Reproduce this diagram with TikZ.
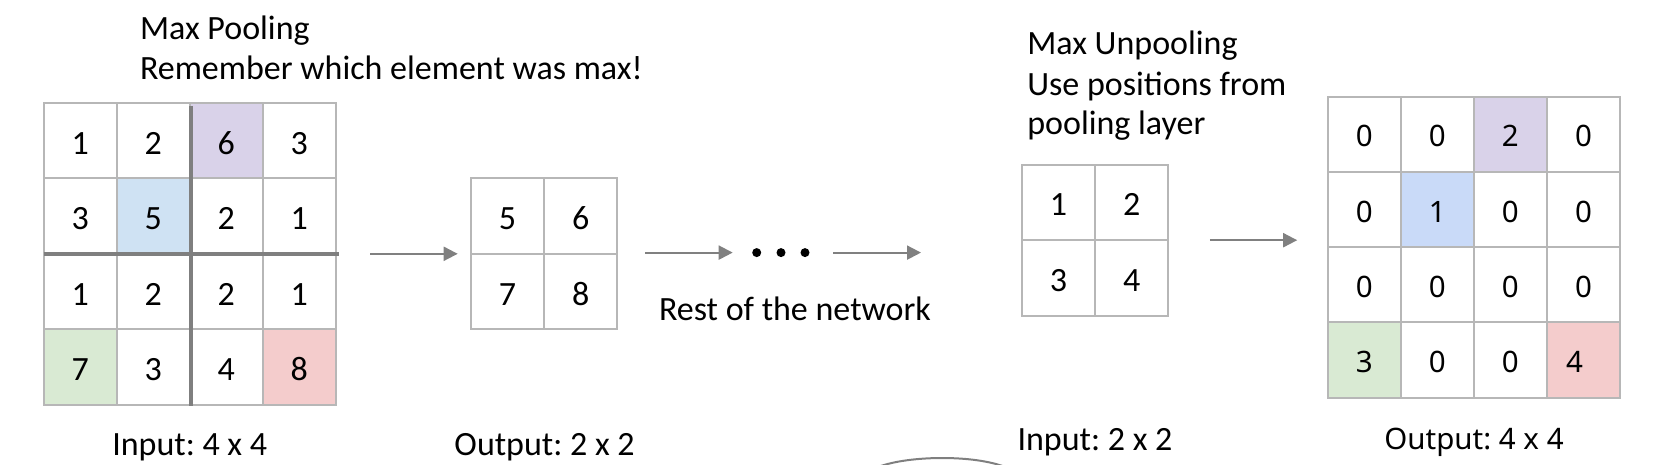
\documentclass[tikz,border=0pt]{standalone}
\usepackage{fontspec}
\setmainfont{Carlito}
\newfontfamily\notofont{Noto Sans}
\usetikzlibrary{arrows.meta,calc}
\definecolor{gridgray}{HTML}{B7B7B7}
\definecolor{thickgray}{HTML}{7F7F7F}
\definecolor{arrgray}{HTML}{808080}
\definecolor{cpurple}{HTML}{D9D2E9}
\definecolor{cblue}{HTML}{CFE2F3}
\definecolor{cblueb}{HTML}{C9DAF8}
\definecolor{cgreen}{HTML}{D9EAD3}
\definecolor{cred}{HTML}{F4CCCC}
\frenchspacing
\begin{document}
\begin{tikzpicture}[x=1pt,y=-1pt,
  cell/.style={draw=gridgray, line width=2pt, minimum width=73pt, minimum height=75.4pt,
    inner sep=0pt, outer sep=0pt, text height=27pt, text depth=0pt, anchor=north west,
    font=\fontsize{34}{40}\selectfont},
  ncell/.style={cell, text height=25pt, font=\notofont\fontsize{29.5}{36}\selectfont},
  lbl/.style={inner sep=0pt, outer sep=0pt, font=\fontsize{34}{40}\selectfont},
  nlbl/.style={inner sep=0pt, outer sep=0pt, font=\notofont\fontsize{29.5}{36}\selectfont},
  divider/.style={draw=thickgray, line width=4pt},
  arr/.style={draw=arrgray, line width=2pt, -{Triangle[length=14pt,width=14pt]}},
  dotnode/.style={circle, fill=black, inner sep=0pt, outer sep=0pt, minimum size=9pt},
  arcline/.style={draw=thickgray, line width=2pt}]
\useasboundingbox (0,0) rectangle (1664,465);

% Input 4x4 (max pooling)
\foreach \v/\f [count=\k from 0] in {1/white,2/white,6/cpurple,3/white,3/white,5/cblue,2/white,1/white,1/white,2/white,2/white,1/white,7/cgreen,3/white,4/white,8/cred} {
  \pgfmathtruncatemacro\ri{\k/4}
  \pgfmathtruncatemacro\ci{mod(\k,4)}
  \node[cell, fill=\f] (a-\ri-\ci) at (43.7+\ci*73, 103+\ri*75.4) {\v};
}
\draw[divider] ($(a-0-1.north east)+(1.3,3)$) -- ($(a-3-1.south east)+(1.3,1.5)$);
\draw[divider] (a-1-0.south west) -- ($(a-1-3.south east)+(3.5,0)$);

% Output 2x2
\foreach \v [count=\k from 0] in {5,6,7,8} {
  \pgfmathtruncatemacro\ri{\k/2}
  \pgfmathtruncatemacro\ci{mod(\k,2)}
  \node[cell] (b-\ri-\ci) at (471+\ci*73.3, 178.4+\ri*75.4) {\v};
}

% Input 2x2 (unpooling)
\foreach \v [count=\k from 0] in {1,2,3,4} {
  \pgfmathtruncatemacro\ri{\k/2}
  \pgfmathtruncatemacro\ci{mod(\k,2)}
  \node[cell] (c-\ri-\ci) at (1022+\ci*73.2, 164.7+\ri*75.5) {\v};
}

% Output 4x4 (unpooling)
\foreach \v/\f [count=\k from 0] in {0/white,0/white,2/cpurple,0/white,0/white,1/cblueb,0/white,0/white,0/white,0/white,0/white,0/white,3/cgreen,0/white,0/white,4\kern18pt/cred} {
  \pgfmathtruncatemacro\ri{\k/4}
  \pgfmathtruncatemacro\ci{mod(\k,4)}
  \node[ncell, fill=\f] (e-\ri-\ci) at (1327.7+\ci*73.1, 96.7+\ri*75.25) {\v};
}

% dots
\node[dotnode] (d1) at (756.7,252.6) {};
\node[dotnode] (d2) at (781,252.6) {};
\node[dotnode] (d3) at (805,252.6) {};

% arrows
\draw[arr] ($(a-1-3.south east)+(34.3,0)$) -- ($(b-1-0.north west)+(-13.3,0)$);
\draw[arr] ($(d1.west)+(-107.2,0)$) -- ($(d1.west)+(-19.5,0)$);
\draw[arr] ($(d3.east)+(23.8,0)$) -- ++(87.7,0);
\draw[arr] ($(c-1-1.north east)+(41.7,0)$) -- ++(87.3,0);

% labels
\node[lbl, anchor=base west] (t1) at (140,39.3) {Max Pooling};
\node[lbl, anchor=base west] (t2) at (140,79.3) {Remember which element was max!};
\node[lbl, anchor=base] (t3) at (189.7,455) {Input: 4 x 4};
\node[lbl, anchor=base] (t4) at (544.6,455) {Output: 2 x 2};
\node[lbl, anchor=base west] (t5) at (659,320) {Rest of the network};
\node[lbl, anchor=base west] (t6) at (1027.3,55) {Max Unpooling};
\node[lbl, anchor=base west] (t7) at (1027.3,95.5) {Use positions from};
\node[lbl, anchor=base west] (t8) at (1027.3,135) {pooling layer};
\node[lbl, anchor=base] (t9) at (1095,450) {Input: 2 x 2};
\node[nlbl, anchor=base] (t10) at (1474,449.3) {Output: 4 x 4};

% partial arc at bottom edge
\draw[arcline] (878,467) .. controls (910,455) and (975,455) .. (1005,467);
\end{tikzpicture}
\end{document}
